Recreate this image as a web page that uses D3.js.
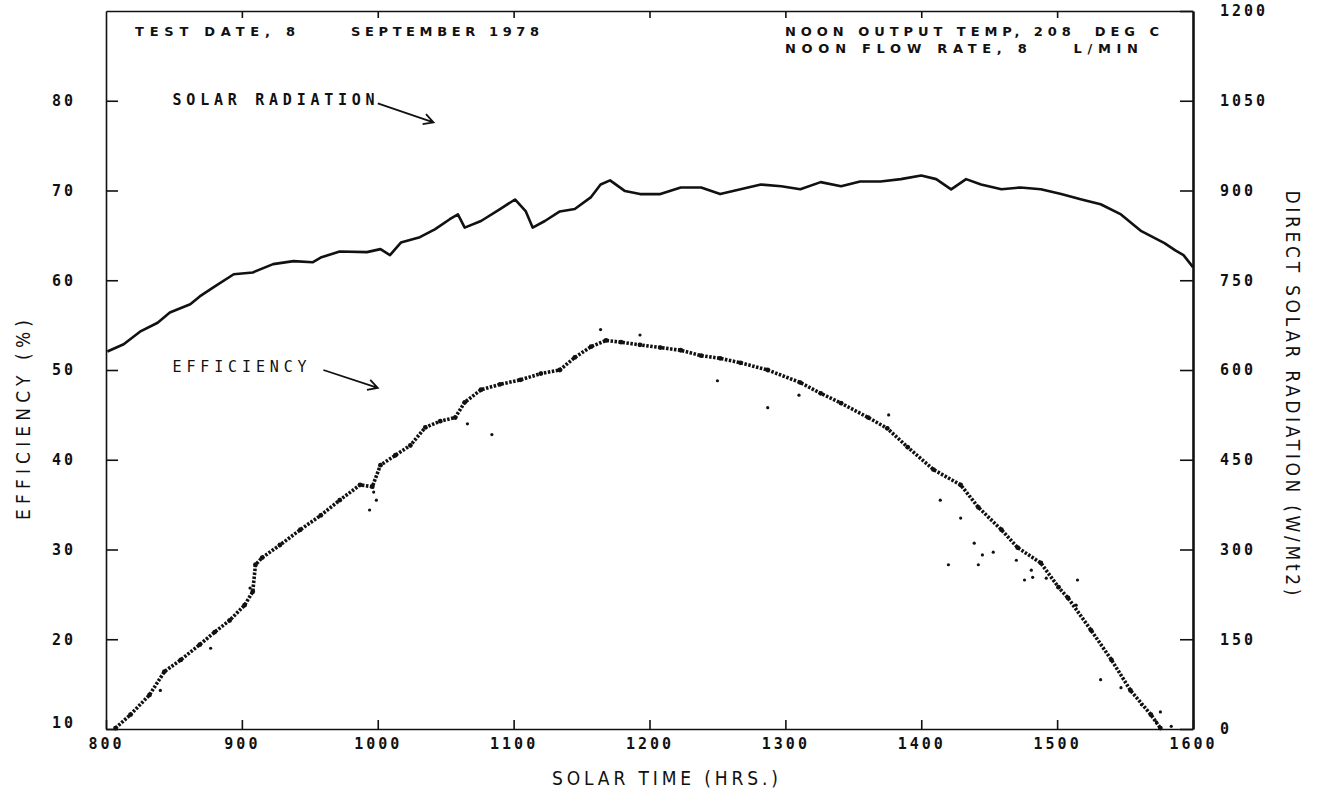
<!DOCTYPE html>
<html>
<head>
<meta charset="utf-8">
<script src="https://cdn.jsdelivr.net/npm/d3@7"></script>
<style>
    body { margin: 0; background: #fff; }
    svg { display: block; }
    .tick text { font-family: "DejaVu Sans Mono"; font-weight: bold; font-size: 15px; letter-spacing: 3px; fill: #111; }
    .tick line, .domain { stroke: #111; stroke-width: 1.6; }
    .mono { font-family: "DejaVu Sans Mono"; font-weight: bold; font-size: 15px; fill: #111; white-space: pre; }
    .head { font-family: "DejaVu Sans"; font-weight: bold; font-size: 13px; fill: #111; white-space: pre; }
    .title { font-family: "DejaVu Sans Condensed", "DejaVu Sans"; font-size: 19px; fill: #111; }
</style>
</head>
<body>
<svg id="chart"></svg>
<script>
// solar time in hours (8 = 800, 16 = 1600)
var xTicks = [8, 9, 10, 11, 12, 13, 14, 15, 16]
var effTicks = [10, 20, 30, 40, 50, 60, 70, 80]
var radTicks = [0, 150, 300, 450, 600, 750, 900, 1050, 1200]

// direct solar radiation (W/Mt2)
var radTime = [8.01, 8.13, 8.25, 8.38, 8.47, 8.62, 8.69, 8.79, 8.94, 9.08,
    9.23, 9.38, 9.52, 9.58, 9.72, 9.92, 10.02, 10.09, 10.17, 10.31,
    10.42, 10.53, 10.59, 10.64, 10.76, 10.90, 11.01, 11.09, 11.14, 11.23,
    11.34, 11.45, 11.57, 11.64, 11.71, 11.82, 11.93, 12.08, 12.23, 12.38,
    12.52, 12.67, 12.82, 12.97, 13.11, 13.26, 13.41, 13.55, 13.70, 13.85,
    14.00, 14.11, 14.22, 14.33, 14.44, 14.59, 14.73, 14.88, 15.03, 15.18,
    15.32, 15.47, 15.62, 15.79, 15.87, 15.93, 16.00]
var radValue = [631, 643, 664, 679, 696, 710, 723, 738, 760, 763,
    777, 782, 780, 788, 798, 797, 802, 792, 813, 822,
    835, 852, 860, 838, 849, 869, 885, 865, 838, 849,
    865, 869, 889, 910, 917, 899, 894, 894, 905, 905,
    894, 902, 910, 907, 902, 914, 907, 915, 915, 919,
    925, 919, 902, 919, 910, 902, 905, 902, 894, 885,
    877, 860, 832, 812, 800, 792, 772]

// efficiency (%)
var effTime = [8.07, 8.18, 8.32, 8.43, 8.55, 8.69, 8.80, 8.91, 9.02,
    9.08, 9.10, 9.15, 9.28, 9.43, 9.58, 9.72, 9.87, 9.96, 10.02,
    10.13, 10.24, 10.35, 10.46, 10.57, 10.64, 10.76, 10.90, 11.05, 11.20,
    11.34, 11.45, 11.57, 11.68, 11.79, 11.93, 12.08, 12.23, 12.38, 12.52,
    12.67, 12.87, 13.11, 13.26, 13.41, 13.61, 13.75, 13.90, 14.09, 14.29,
    14.42, 14.59, 14.71, 14.88, 15.01, 15.08, 15.25, 15.40, 15.54, 15.69,
    15.76]
var effValue = [10.1, 11.6, 13.8, 16.4, 17.7, 19.4, 20.8, 22.1, 23.8,
    25.3, 28.3, 29.1, 30.5, 32.2, 33.8, 35.5, 37.2, 37.0, 39.4,
    40.5, 41.6, 43.6, 44.3, 44.7, 46.4, 47.8, 48.4, 48.9, 49.6,
    50.0, 51.4, 52.6, 53.3, 53.1, 52.8, 52.5, 52.2, 51.6, 51.3,
    50.8, 50.0, 48.6, 47.4, 46.3, 44.7, 43.5, 41.4, 38.9, 37.2,
    34.7, 32.2, 30.2, 28.5, 25.8, 24.6, 21.0, 17.7, 14.3, 11.6,
    10.1]

// stray efficiency readings off the main band
var scatterTime = [10.66, 10.84, 9.94, 9.99, 9.97, 9.06, 8.77, 8.40, 11.64, 11.93,
    14.70, 14.81, 14.92, 15.15, 14.42, 15.32, 15.47, 15.62, 15.73, 15.84,
    15.14, 15.76, 14.29, 14.14, 14.20, 12.87, 12.50, 13.10, 13.76, 14.39,
    14.45, 14.53, 14.76, 14.82]
var scatterValue = [44.0, 42.8, 34.4, 35.5, 36.4, 25.7, 19.0, 14.3, 54.5, 53.9,
    28.8, 27.7, 26.8, 26.6, 28.3, 15.5, 14.6, 12.7, 10.8, 10.3,
    23.8, 11.9, 33.5, 35.5, 28.3, 45.8, 48.8, 47.2, 45.0, 30.7,
    29.4, 29.7, 26.6, 26.9]

var radiation = radTime.map((t, i) => ({t: t, v: radValue[i]}))
var efficiency = effTime.map((t, i) => ({t: t, v: effValue[i]}))
var strays = scatterTime.map((t, i) => ({t: t, v: scatterValue[i]}))

var dimensions = {
    width: 1317,
    height: 791,
    margin: {
        top: 11,
        bottom: 62,
        left: 106,
        right: 124
    }
}

var svg = d3.select("#chart")
            .attr("width", dimensions.width)
            .attr("height", dimensions.height)

svg.append("rect")
    .attr("width", dimensions.width)
    .attr("height", dimensions.height)
    .attr("fill", "#fff")

var xScale = d3.scaleLinear()
                .domain([8, 16])
                .range([dimensions.margin.left, dimensions.width - dimensions.margin.right])
var yEff = d3.scaleLinear()
                .domain([10, 90])
                .range([dimensions.height - dimensions.margin.bottom, dimensions.margin.top])
var yRad = d3.scaleLinear()
                .domain([0, 1200])
                .range([dimensions.height - dimensions.margin.bottom, dimensions.margin.top])

// axes, ticks pointing into the plot
var xAxisGen = d3.axisBottom(xScale).tickValues(xTicks).tickFormat(d => d * 100)
                .tickSize(-9).tickSizeOuter(0).tickPadding(9)
svg.append("g")
    .attr("transform", `translate(0,${dimensions.height - dimensions.margin.bottom})`)
    .call(xAxisGen)

var topAxisGen = d3.axisTop(xScale).tickValues(xTicks.slice(1, -1)).tickFormat("")
                .tickSize(-7).tickSizeOuter(0)
svg.append("g")
    .attr("transform", `translate(0,${dimensions.margin.top})`)
    .call(topAxisGen)

var yAxisGen = d3.axisLeft(yEff).tickValues(effTicks).tickSize(-12).tickSizeOuter(0).tickPadding(30)
var yAxis = svg.append("g")
    .attr("transform", `translate(${dimensions.margin.left},0)`)
    .call(yAxisGen)
yAxis.selectAll(".tick text").filter(d => d === 10).attr("dy", "-0.1em")

var y2AxisGen = d3.axisRight(yRad).tickValues(radTicks).tickFormat(d3.format("d"))
                .tickSize(-13).tickSizeOuter(0).tickPadding(27)
var y2Axis = svg.append("g")
    .attr("transform", `translate(${dimensions.width - dimensions.margin.right},0)`)
    .call(y2AxisGen)
y2Axis.select(".domain").style("stroke-width", 2.6)

// solar radiation trace
var radLine = d3.line()
                .x(d => xScale(d.t))
                .y(d => yRad(d.v))
svg.append("path")
    .datum(radiation)
    .attr("d", radLine)
    .attr("fill", "none")
    .attr("stroke", "#111")
    .attr("stroke-width", 2.6)
    .attr("stroke-linejoin", "round")

// efficiency band of dots
var effLine = d3.line()
                .x(d => xScale(d.t))
                .y(d => yEff(d.v))
svg.append("path")
    .datum(efficiency)
    .attr("d", effLine)
    .attr("fill", "none")
    .attr("stroke", "#111")
    .attr("stroke-width", 3.6)
    .attr("stroke-dasharray", "2.5 1.5")

svg.append("g").selectAll("circle")
    .data(efficiency)
    .join("circle")
    .attr("cx", d => xScale(d.t))
    .attr("cy", d => yEff(d.v))
    .attr("r", 2.4)
    .attr("fill", "#111")

svg.append("g").selectAll("circle")
    .data(strays)
    .join("circle")
    .attr("cx", d => xScale(d.t))
    .attr("cy", d => yEff(d.v))
    .attr("r", 1.6)
    .attr("fill", "#111")

// header text
svg.append("text").attr("class", "head")
    .attr("x", 135).attr("y", 36).attr("textLength", 160).text("TEST DATE, 8")
svg.append("text").attr("class", "head")
    .attr("x", 351).attr("y", 36).attr("textLength", 188).text("SEPTEMBER 1978")
svg.append("text").attr("class", "head")
    .attr("x", 785).attr("y", 36).attr("textLength", 374).text("NOON OUTPUT TEMP, 208  DEG C")
svg.append("text").attr("class", "head")
    .attr("x", 785).attr("y", 53).attr("textLength", 353).text("NOON FLOW RATE, 8    L/MIN")

// curve labels with arrows
function arrow(t1, v1, t2, v2) {
    var x1 = xScale(t1), y1 = yEff(v1), x2 = xScale(t2), y2 = yEff(v2)
    var a = Math.atan2(y2 - y1, x2 - x1)
    var len = 11
    var p = `M${x1},${y1}L${x2},${y2}` +
        `M${x2 - len * Math.cos(a - 0.5)},${y2 - len * Math.sin(a - 0.5)}L${x2},${y2}` +
        `L${x2 - len * Math.cos(a + 0.5)},${y2 - len * Math.sin(a + 0.5)}`
    svg.append("path")
        .attr("d", p)
        .attr("fill", "none")
        .attr("stroke", "#111")
        .attr("stroke-width", 1.8)
}

svg.append("text").attr("class", "mono")
    .attr("x", xScale(8.49)).attr("y", yEff(80.1)).attr("dy", "0.36em")
    .attr("textLength", 202).text("SOLAR RADIATION")
arrow(10.0, 79.7, 10.41, 77.6)

svg.append("text").attr("class", "mono").style("font-weight", "normal")
    .attr("x", xScale(8.49)).attr("y", yEff(50.4)).attr("dy", "0.36em")
    .attr("textLength", 134).text("EFFICIENCY")
arrow(9.6, 50.0, 10.0, 48.0)

// axis titles
svg.append("text").attr("class", "title")
    .attr("x", 665).attr("y", 785)
    .attr("text-anchor", "middle")
    .attr("textLength", 226)
    .text("SOLAR TIME (HRS.)")

svg.append("text").attr("class", "title")
    .attr("transform", "translate(30,420) rotate(-90)")
    .attr("text-anchor", "middle")
    .attr("textLength", 200)
    .text("EFFICIENCY (%)")

svg.append("text").attr("class", "title")
    .attr("transform", "translate(1286,393) rotate(90)")
    .attr("text-anchor", "middle")
    .attr("textLength", 405)
    .text("DIRECT SOLAR RADIATION (W/Mt2)")
</script>
</body>
</html>
